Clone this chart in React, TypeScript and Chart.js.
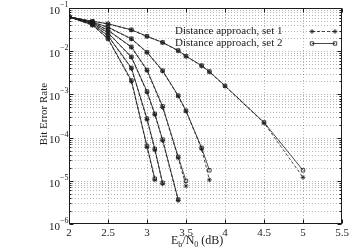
import React, { useEffect, useRef } from 'react';
import { Chart, registerables } from 'chart.js';

Chart.register(...registerables);

// Eb/N0 sample points (dB) and bit error rates for each code configuration
const EBN0_A = [2.0, 2.3, 2.5, 2.8, 3.0, 3.1];
const BER_A_SET1 = [0.063, 0.0398, 0.0191, 0.002, 6.0e-5, 1.05e-5];
const BER_A_SET2 = [0.062, 0.0405, 0.0196, 0.0021, 6.4e-5, 1.12e-5];

const EBN0_B = [2.0, 2.3, 2.5, 2.8, 3.0, 3.1, 3.2];
const BER_B_SET1 = [0.063, 0.0417, 0.0224, 0.00398, 2.6e-4, 5.2e-5, 8.5e-6];
const BER_B_SET2 = [0.062, 0.0423, 0.0229, 0.0041, 2.75e-4, 5.5e-5, 9.0e-6];

const EBN0_C = [2.0, 2.3, 2.5, 2.8, 3.0, 3.1, 3.2, 3.4];
const BER_C_SET1 = [0.063, 0.0437, 0.0263, 0.00724, 0.00112, 3.4e-4, 8.5e-5, 3.5e-6];
const BER_C_SET2 = [0.062, 0.0442, 0.0268, 0.0074, 0.00117, 3.55e-4, 9.0e-5, 3.7e-6];

const EBN0_D = [2.0, 2.3, 2.5, 2.8, 3.0, 3.2, 3.4, 3.5];
const BER_D_SET1 = [0.063, 0.0457, 0.0302, 0.0123, 0.00355, 5.0e-4, 3.4e-5, 7.6e-6];
const BER_D_SET2 = [0.062, 0.0461, 0.0307, 0.0126, 0.0037, 5.3e-4, 3.6e-5, 1.0e-5];

const EBN0_E = [2.0, 2.3, 2.5, 2.8, 3.0, 3.2, 3.4, 3.5, 3.7, 3.8];
const BER_E_SET1 = [0.063, 0.0468, 0.0355, 0.0191, 0.00933, 0.00347, 9.1e-4, 4.07e-4, 5.5e-5, 1.05e-5];
const BER_E_SET2 = [0.062, 0.0472, 0.036, 0.0195, 0.0095, 0.00355, 9.4e-4, 4.2e-4, 5.8e-5, 1.75e-5];

const EBN0_F = [2.0, 2.3, 2.5, 2.8, 3.0, 3.2, 3.4, 3.5, 3.7, 3.8, 4.0, 4.5, 5.0];
const BER_F_SET1 = [0.063, 0.049, 0.0427, 0.0309, 0.0219, 0.0158, 0.0102, 0.00759, 0.00457, 0.00331, 0.00155, 2.19e-4, 1.2e-5];
const BER_F_SET2 = [0.062, 0.0494, 0.0432, 0.0313, 0.0222, 0.016, 0.0104, 0.0077, 0.00465, 0.00338, 0.00158, 2.25e-4, 1.75e-5];

const X_TICKS = [2, 2.5, 3, 3.5, 4, 4.5, 5, 5.5];
const X_TICK_LABELS = ['2', '2.5', '3', '3.5', '4', '4.5', '5', '5.5'];
const Y_DECADES = [-1, -2, -3, -4, -5, -6];

const LEGEND_LABELS = ['Distance approach, set 1', 'Distance approach, set 2'];
const Y_TITLE = 'Bit Error Rate';

const FONT = '"Liberation Serif", "Times New Roman", Times, serif';
const INK = '#1c1c1c';

const CURVES = [
  { x: EBN0_A, s1: BER_A_SET1, s2: BER_A_SET2 },
  { x: EBN0_B, s1: BER_B_SET1, s2: BER_B_SET2 },
  { x: EBN0_C, s1: BER_C_SET1, s2: BER_C_SET2 },
  { x: EBN0_D, s1: BER_D_SET1, s2: BER_D_SET2 },
  { x: EBN0_E, s1: BER_E_SET1, s2: BER_E_SET2 },
  { x: EBN0_F, s1: BER_F_SET1, s2: BER_F_SET2 },
];

function drawStar(ctx: CanvasRenderingContext2D, x: number, y: number, r: number) {
  const d = r * Math.SQRT1_2;
  ctx.beginPath();
  ctx.moveTo(x - r, y); ctx.lineTo(x + r, y);
  ctx.moveTo(x, y - r); ctx.lineTo(x, y + r);
  ctx.moveTo(x - d, y - d); ctx.lineTo(x + d, y + d);
  ctx.moveTo(x - d, y + d); ctx.lineTo(x + d, y - d);
  ctx.stroke();
}

function drawSquare(ctx: CanvasRenderingContext2D, x: number, y: number, s: number) {
  ctx.beginPath();
  ctx.rect(x - s, y - s, 2 * s, 2 * s);
  ctx.stroke();
}

const gridPlugin = {
  id: 'dottedGrid',
  beforeDatasetsDraw(chart: any) {
    const { ctx, chartArea: a, scales } = chart;
    const xs = scales.x, ys = scales.y;
    ctx.save();
    ctx.strokeStyle = 'rgba(90,90,90,0.55)';
    ctx.lineWidth = 0.8;
    ctx.setLineDash([1, 2]);
    X_TICKS.forEach((v) => {
      const px = Math.round(xs.getPixelForValue(v)) + 0.5;
      if (px <= a.left + 1 || px >= a.right - 1) return;
      ctx.beginPath(); ctx.moveTo(px, a.top); ctx.lineTo(px, a.bottom); ctx.stroke();
    });
    for (let d = -6; d < -1; d++) {
      for (let m = 1; m <= 9; m++) {
        const v = m * Math.pow(10, d);
        const py = Math.round(ys.getPixelForValue(v)) + 0.5;
        if (py <= a.top + 1 || py >= a.bottom - 1) continue;
        ctx.beginPath(); ctx.moveTo(a.left, py); ctx.lineTo(a.right, py); ctx.stroke();
      }
    }
    ctx.restore();
  },
  afterDatasetsDraw(chart: any) {
    const { ctx, chartArea: a, scales } = chart;
    const xs = scales.x, ys = scales.y;
    const L = Math.round(a.left) + 0.5, R = Math.round(a.right) - 0.5;
    const T = Math.round(a.top) + 0.5, B = Math.round(a.bottom) - 0.5;
    ctx.save();
    ctx.setLineDash([]);
    ctx.strokeStyle = INK;
    ctx.lineWidth = 1;
    ctx.strokeRect(L, T, R - L, B - T);

    // inward tick marks
    ctx.beginPath();
    X_TICKS.forEach((v) => {
      const px = Math.round(xs.getPixelForValue(v)) + 0.5;
      ctx.moveTo(px, B); ctx.lineTo(px, B - 4);
      ctx.moveTo(px, T); ctx.lineTo(px, T + 4);
    });
    for (let d = -6; d <= -1; d++) {
      for (let m = 1; m <= 9; m++) {
        if (d === -1 && m > 1) break;
        const py = Math.round(ys.getPixelForValue(m * Math.pow(10, d))) + 0.5;
        const len = m === 1 ? 4 : 2;
        ctx.moveTo(L, py); ctx.lineTo(L + len, py);
        ctx.moveTo(R, py); ctx.lineTo(R - len, py);
      }
    }
    ctx.stroke();

    ctx.fillStyle = INK;
    // x tick labels
    ctx.font = `11px ${FONT}`;
    ctx.textAlign = 'center';
    ctx.textBaseline = 'middle';
    X_TICKS.forEach((v, i) => {
      ctx.fillText(X_TICK_LABELS[i], xs.getPixelForValue(v), a.bottom + 9);
    });

    // y tick labels with superscript exponents
    Y_DECADES.forEach((d) => {
      const py = ys.getPixelForValue(Math.pow(10, d));
      ctx.font = `11px ${FONT}`;
      ctx.textAlign = 'right';
      ctx.textBaseline = 'middle';
      ctx.fillText('10', a.left - 9, py + 3);
      ctx.font = `8px ${FONT}`;
      ctx.textAlign = 'left';
      ctx.fillText('\u2212' + String(-d), a.left - 9, py - 3);
    });

    // x axis title: Eb/N0 (dB)
    ctx.textAlign = 'left';
    ctx.textBaseline = 'alphabetic';
    const base = a.bottom + 20;
    let cx = 171;
    const parts: [string, number, number][] = [
      ['E', 12, 0], ['b', 8, 3], ['/N', 12, 0], ['0', 8, 3], [' (dB)', 12, 0],
    ];
    parts.forEach(([t, size, dy]) => {
      ctx.font = `${size}px ${FONT}`;
      ctx.fillText(t, cx, base + dy);
      cx += ctx.measureText(t).width;
    });

    // y axis title
    ctx.save();
    ctx.translate(44, (a.top + a.bottom) / 2 - 2);
    ctx.rotate(-Math.PI / 2);
    ctx.font = `11px ${FONT}`;
    ctx.textAlign = 'center';
    ctx.textBaseline = 'middle';
    ctx.fillText(Y_TITLE, 0, 0);
    ctx.restore();

    // legend
    ctx.font = `11px ${FONT}`;
    ctx.textAlign = 'left';
    ctx.textBaseline = 'middle';
    const rows = [31, 43];
    LEGEND_LABELS.forEach((t, i) => ctx.fillText(t, 175, rows[i]));
    ctx.lineWidth = 0.8;
    ctx.setLineDash([3, 2]);
    ctx.beginPath(); ctx.moveTo(312, rows[0] + 0.5); ctx.lineTo(335, rows[0] + 0.5); ctx.stroke();
    ctx.setLineDash([]);
    drawStar(ctx, 312, rows[0] + 0.5, 2.4);
    drawStar(ctx, 335, rows[0] + 0.5, 2.4);
    ctx.beginPath(); ctx.moveTo(312, rows[1] + 0.5); ctx.lineTo(335, rows[1] + 0.5); ctx.stroke();
    drawSquare(ctx, 312, rows[1] + 0.5, 1.7);
    drawSquare(ctx, 335, rows[1] + 0.5, 1.7);
    ctx.restore();
  },
};

export default function App() {
  const ref = useRef<HTMLCanvasElement | null>(null);

  useEffect(() => {
    if (!ref.current) return;
    const datasets: any[] = [];
    CURVES.forEach((c) => {
      datasets.push({
        label: LEGEND_LABELS[0],
        data: c.x.map((v, i) => ({ x: v, y: c.s1[i] })),
        borderColor: INK,
        borderWidth: 0.8,
        borderDash: [3, 2],
        pointStyle: 'star',
        pointRadius: 2.4,
        pointBorderWidth: 0.8,
        pointBorderColor: INK,
        pointBackgroundColor: 'rgba(0,0,0,0)',
        tension: 0,
        fill: false,
      });
      datasets.push({
        label: LEGEND_LABELS[1],
        data: c.x.map((v, i) => ({ x: v, y: c.s2[i] })),
        borderColor: INK,
        borderWidth: 0.8,
        pointStyle: 'rect',
        pointRadius: 2.4,
        pointBorderWidth: 0.8,
        pointBorderColor: INK,
        pointBackgroundColor: 'rgba(0,0,0,0)',
        tension: 0,
        fill: false,
      });
    });

    const chart = new Chart(ref.current, {
      type: 'line',
      data: { datasets },
      options: {
        animation: false,
        responsive: false,
        maintainAspectRatio: false,
        devicePixelRatio: 1,
        events: [],
        layout: { padding: { left: 0, right: 8, top: 8, bottom: 0 }, autoPadding: false },
        plugins: { legend: { display: false }, tooltip: { enabled: false } },
        scales: {
          x: {
            type: 'linear', min: 2, max: 5.5,
            grid: { display: false }, border: { display: false },
            ticks: { display: false },
            afterFit: (s: any) => { s.height = 27; },
          },
          y: {
            type: 'logarithmic', min: 1e-6, max: 1e-1,
            grid: { display: false }, border: { display: false },
            ticks: { display: false },
            afterFit: (s: any) => { s.width = 69; },
          },
        },
      } as any,
      plugins: [gridPlugin],
    });
    return () => chart.destroy();
  }, []);

  return (
    <div style={{ position: 'fixed', left: 0, top: 0, width: 350, height: 251, background: '#fff' }}>
      <canvas ref={ref} width={350} height={251} style={{ display: 'block', width: 350, height: 251 }} />
    </div>
  );
}
